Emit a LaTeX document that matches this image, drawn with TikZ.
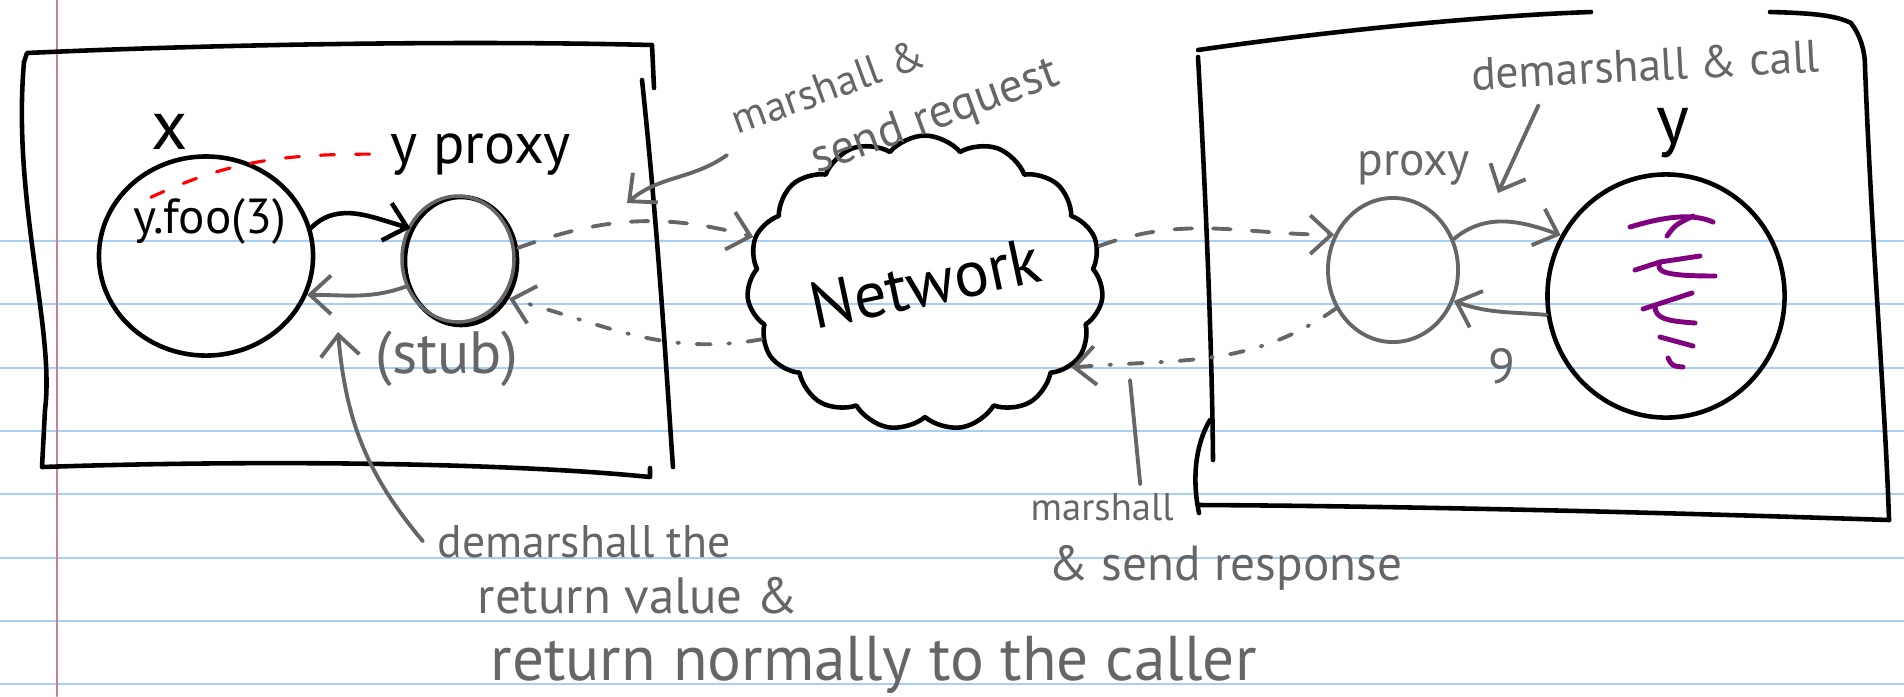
\documentclass[tikz,border=0pt]{standalone}
\usepackage{xcolor}
\usepackage{fontspec}
\setmainfont{PT Sans}
\usepackage{tikz}
\usetikzlibrary{positioning, arrows.meta, shapes.geometric, shapes.symbols, calc}

\definecolor{penGray}{RGB}{102,102,102}
\definecolor{rulerBlue}{RGB}{168,208,246}
\definecolor{marginRed}{RGB}{196,130,160}
\definecolor{inkPurple}{RGB}{128,0,128}

\begin{document}
\begin{tikzpicture}[x=0.01cm, y=-0.01cm, line cap=round, line join=round]

			% Styles
			\tikzset{
				object/.style={ellipse, draw=black, line width=1.3pt, inner sep=0pt},
				proxyobj/.style={ellipse, draw=penGray, line width=1.1pt, inner sep=0pt},
				netcloud/.style={cloud, draw=black, line width=1.3pt, cloud puffs=15,
					cloud puff arc=100, aspect=1.26, inner sep=0pt},
				inklabel/.style={text=black, inner sep=0pt},
				penlabel/.style={text=penGray, inner sep=0pt},
				sketchbox/.style={line width=1.3pt},
				callarrow/.style={line width=1.3pt, -{Straight Barb[length=6pt, width=11pt]}},
				penarrow/.style={draw=penGray, line width=1.1pt, -{Straight Barb[length=6pt, width=11pt]}},
				request/.style={penarrow, dash pattern=on 5pt off 6pt},
				response/.style={penarrow, dash pattern=on 4pt off 5pt on 0.5pt off 5pt},
				pointer/.style={draw=penGray, line width=1.1pt}
			}

			% Paper
			\fill[white] (0,0) rectangle (1904,696);
			\useasboundingbox (0,0) rectangle (1904,696);
			\foreach \ly in {241,304,368,431,494,558,621,684}
				\draw[rulerBlue, line width=0.8pt] (0,\ly) -- (1904,\ly);
			\draw[marginRed, line width=0.7pt] (57,0) -- (57,696);

			% Client process
			\draw[sketchbox] (24,62) -- (27,53) .. controls (200,45) and (450,40) .. (652,45) -- (654,88);
			\draw[sketchbox] (24,62) .. controls (12,200) and (55,330) .. (45,410) -- (42,467)
				.. controls (250,460) and (500,462) .. (650,477) -- (650,468);
			\draw[sketchbox] (642,80) .. controls (660,250) and (668,400) .. (673,467);

			% Server process
			\draw[sketchbox] (1198,50) .. controls (1350,28) and (1500,15) .. (1591,12);
			\draw[sketchbox] (1770,12) .. controls (1810,13) and (1835,15) .. (1851,23)
				.. controls (1860,35) and (1865,50) .. (1865,67)
				.. controls (1872,250) and (1885,400) .. (1889,520);
			\draw[sketchbox] (1198,57) .. controls (1206,200) and (1212,350) .. (1213,460);
			\draw[sketchbox] (1210,420) .. controls (1195,445) and (1192,480) .. (1199,513);
			\draw[sketchbox] (1199,505) .. controls (1400,506) and (1650,512) .. (1889,520);

			% Objects
			\node (xobj) [object, minimum width=2.14cm, minimum height=1.99cm] at (206,256) {};
			\node (stub) [object, minimum width=1.12cm, minimum height=1.28cm] at (461,261) {};
			\draw[penGray, line width=1pt] ($(stub.center)+(-3,-2)$) ellipse [x radius=56, y radius=63];
			\node (netw) [netcloud, minimum width=3.16cm, minimum height=2.5cm] at (925,283)
				{\rotatebox{12}{\fontsize{18.5}{20}\selectfont Network}};
			\node (rproxy) [proxyobj, minimum width=1.30cm, minimum height=1.44cm] at (1393,270) {};
			\node (yobj) [object, minimum width=2.37cm, minimum height=2.43cm] at (1666,296) {};

			% Method body of y
			\begin{scope}[inkPurple, line width=1.4pt]
				\draw (1630,227) .. controls (1660,218) and (1690,212) .. (1713,222);
				\draw (1667,236) .. controls (1675,225) .. (1693,216);
				\draw (1635,270) -- (1660,262) -- (1700,256);
				\draw (1660,262) .. controls (1655,272) and (1665,276) .. (1715,276);
				\draw (1643,309) -- (1692,293);
				\draw (1655,306) .. controls (1655,318) and (1665,321) .. (1695,323);
				\draw (1660,337) -- (1693,346);
				\draw (1668,358) .. controls (1672,366) .. (1683,367);
			\end{scope}

			% Labels
			\node (xlabel) [inklabel, font=\fontsize{20}{22}\selectfont] at (170,132) {x};
			\node (yfoo) [inklabel, anchor=base west, font=\fontsize{14}{15}\selectfont] at (133,233) {y.foo(3)};
			\node (yproxy) [inklabel, anchor=base west, font=\fontsize{16.5}{18}\selectfont] at (390,163) {y proxy};
			\node (stubtag) [penlabel, font=\fontsize{17}{19}\selectfont] at (447,359) {(stub)};
			\node (mreq) [penlabel, rotate=20, align=left, font=\fontsize{13.5}{18}\selectfont] at (896,100)
				{{\fontsize{12}{18}\selectfont marshall \&}\\\hspace*{1.3em}send request};
			\node (rproxytag) [penlabel, anchor=base west, font=\fontsize{13.5}{15}\selectfont] at (1357,175) {proxy};
			\node (demcall) [penlabel, anchor=base, rotate=3, font=\fontsize{13}{15}\selectfont] at (1646,81) {demarshall \& call};
			\node (ylabel) [inklabel, font=\fontsize{20}{22}\selectfont] at (1673,133) {y};
			\node (nine) [penlabel, font=\fontsize{14}{16}\selectfont] at (1502,366) {9};
			\node (mresp1) [penlabel, anchor=base west, font=\fontsize{11}{13}\selectfont] at (1030,520) {marshall};
			\node (mresp2) [penlabel, anchor=base west, font=\fontsize{14}{16}\selectfont] at (1048,580) {\& send response};
			\node (demret1) [penlabel, anchor=base west, font=\fontsize{13}{15}\selectfont] at (437,557) {demarshall the};
			\node (demret2) [penlabel, anchor=base west, font=\fontsize{14.5}{16}\selectfont] at (477,613) {return value \&};
			\node (demret3) [penlabel, anchor=base west, font=\fontsize{18}{20}\selectfont] at (490,680) {return normally to the caller};

			% Free ends of the pointers
			\coordinate (reqpt) at (627,203);
			\coordinate (callpt) at (1498,193);
			\coordinate (resppt) at (1130,380);
			\coordinate (retpt) at (338,332);

			% Local call and return
			\draw[callarrow] (xobj.15) to[out=45,in=165] (stub.147);
			\draw[penarrow] (stub.205) to[out=200,in=0] (xobj.339);
			\draw[red, line width=0.9pt, dash pattern=on 4pt off 6pt] ($(yfoo.north west)+(18,0)$)
				to[out=25,in=180] ([xshift=-4pt]yproxy.west);

			% Over the network
			\draw[request] (stub.13) to[out=20,in=165] (netw.165);
			\draw[response] (netw.199) to[out=190,in=-15] (stub.322);
			\draw[request] (netw.12) to[out=20,in=180] (rproxy.149);
			\draw[response] (rproxy.214) to[out=215,in=5] (netw.330);

			% Remote call and return
			\draw[penarrow] (rproxy.27) to[out=40,in=160] (yobj.150);
			\draw[penarrow] (yobj.189) to[out=175,in=-20] (rproxy.333);

			% Notes
			\draw[penarrow] ([xshift=-5pt]mreq.west) to[out=215,in=40] (reqpt);
			\draw[penarrow] ($(demcall.south west)+(67,14)$) -- (callpt);
			\draw[pointer] ($(mresp1.north)+(38,-8)$) -- (resppt);
			\draw[penarrow] ([xshift=-4pt]demret1.west) to[out=130,in=-85] (retpt);

\end{tikzpicture}
\end{document}
